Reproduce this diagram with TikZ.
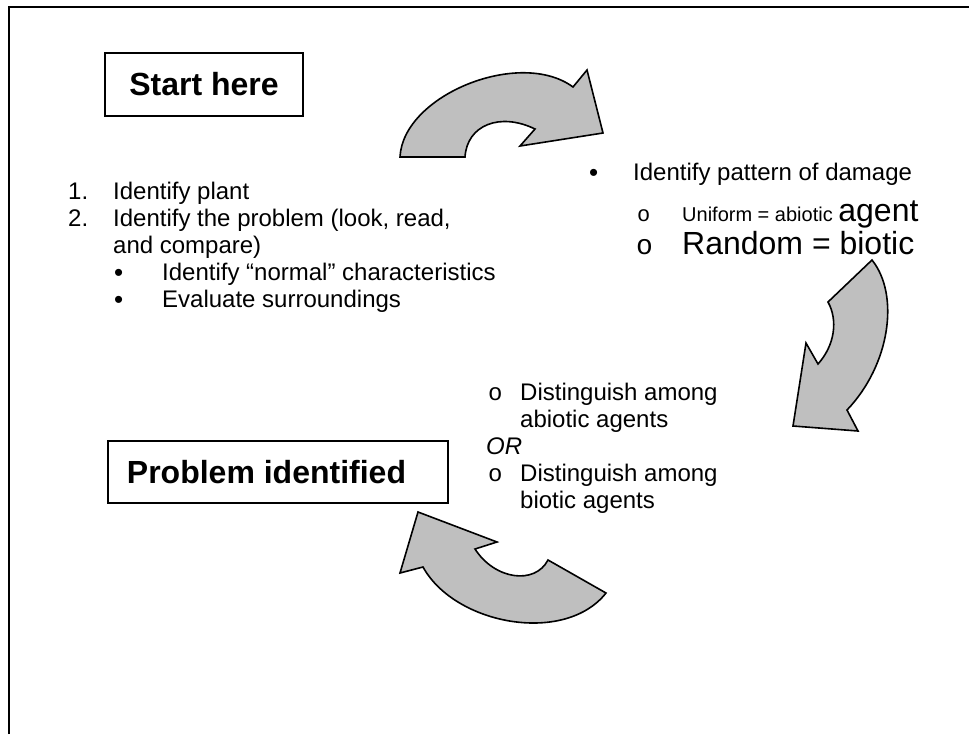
\documentclass[tikz,border=0pt]{standalone}
\usepackage{fontspec}
\setmainfont{Liberation Sans}
\newfontfamily\ofont{Liberation Mono}

\begin{document}
\begin{tikzpicture}[x=1pt,y=-1pt]
		\useasboundingbox (0,0) rectangle (969,734);
		\tikzset{BoxStyle/.style = {draw, line width=2pt, inner sep=0pt, font=\fontsize{32}{36}\selectfont\bfseries},
			ArrowStyle/.style = {draw, line width=1.6pt, fill=black!25, line join=miter},
			ListStyle/.style = {anchor=base west, inner sep=0pt, font=\fontsize{24}{27.6}\selectfont},
			BigStyle/.style = {anchor=base west, inner sep=0pt, font=\fontsize{32}{36}\selectfont},
			SmallStyle/.style = {anchor=base west, inner sep=0pt, font=\fontsize{20}{23}\selectfont},
			OStyle/.style = {anchor=base west, inner sep=0pt, font=\ofont\fontsize{24}{27.6}\selectfont},
			DotStyle/.style = {anchor=base west, inner sep=0pt, font=\fontsize{26}{26}\selectfont}}
		% frame
		\draw[line width=2pt] (9,734) -- (9,7) -- (969,7);
		% boxes
		\node[BoxStyle, minimum width=198pt, minimum height=63pt] (start) at (204,84.5) {Start here};
		\node[BoxStyle, minimum width=340pt, minimum height=62pt] (probbox) at (278,472) {};
		\node[BoxStyle, draw=none] (probtext) at (266.5,472) {Problem identified};
		% left list
		\node[ListStyle] (n1) at (68,199) {1.};
		\node[ListStyle] (plant) at (113,199) {Identify plant};
		\node[ListStyle] (n2) at (68,226) {2.};
		\node[ListStyle] (problem) at (113,226) {Identify the problem (look, read,};
		\node[ListStyle] (compare) at (113,253) {and compare)};
		\node[DotStyle] (d1) at (114,281) {•};
		\node[ListStyle] (normal) at (162,280) {Identify “normal” characteristics};
		\node[DotStyle] (d2) at (114,308) {•};
		\node[ListStyle] (surround) at (162,307) {Evaluate surroundings};
		% pattern of damage
		\node[DotStyle] (d3) at (589,181) {•};
		\node[ListStyle] (pattern) at (633,180) {Identify pattern of damage};
		\node[OStyle, font=\ofont\fontsize{22}{24}\selectfont] (o1) at (637,221) {o};
		\node[SmallStyle] (uniform) at (682,221) {Uniform = abiotic {\fontsize{32}{36}\selectfont agent}};
		\node[OStyle, font=\ofont\fontsize{28}{30}\selectfont] (o2) at (636,254) {o};
		\node[BigStyle] (random) at (682,254) {Random = biotic};
		% agents
		\node[OStyle] (o3) at (488,400) {o};
		\node[ListStyle] (dist1) at (520,400) {Distinguish among};
		\node[ListStyle] (abiotic) at (520,427) {abiotic agents};
		\node[ListStyle, font=\fontsize{24}{27.6}\selectfont\itshape] (or) at (486,454) {OR};
		\node[OStyle] (o4) at (488,481) {o};
		\node[ListStyle] (dist2) at (520,481) {Distinguish among};
		\node[ListStyle] (biotic) at (520,508) {biotic agents};
		% curved arrows
		\draw[ArrowStyle] (400,157) .. controls (403,95) and (520,48) .. (573,87)
			-- (587,70) -- (603,133) -- (520,146) -- (535,129)
			.. controls (500,112) and (467,125) .. (465,157) -- cycle;
		\draw[ArrowStyle] (872,260) .. controls (900,295) and (890,365) .. (847,410)
			-- (858,431) -- (793,426) -- (806,343) -- (818,364)
			.. controls (835,345) and (838,320) .. (828,302) -- cycle;
		\draw[ArrowStyle] (418,512) -- (400,573) -- (423,567)
			.. controls (455,625) and (565,645) .. (606,593) -- (548,560)
			.. controls (535,585) and (495,580) .. (475,549) -- (497,542) -- cycle;
\end{tikzpicture}
\end{document}
